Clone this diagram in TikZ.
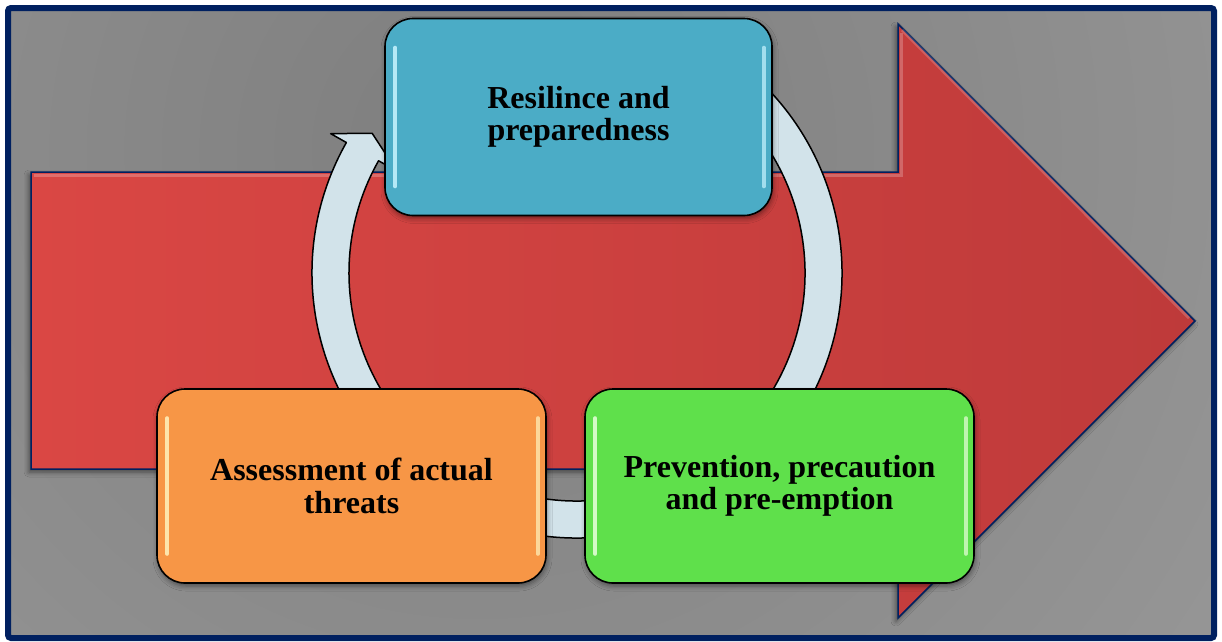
\documentclass[tikz,border=0pt]{standalone}
\usepackage{fontspec}
\setmainfont{Liberation Serif}
\usetikzlibrary{shadows.blur,calc}

\definecolor{framenavy}{HTML}{002060}
\definecolor{bgmid}{HTML}{7E7E7E}
\definecolor{bgedge}{HTML}{A6A6A6}
\definecolor{redL}{HTML}{DA4744}
\definecolor{redR}{HTML}{BE3A3A}
\definecolor{ringblue}{HTML}{D2E3EA}
\definecolor{stageblue}{HTML}{4BACC6}
\definecolor{stagegreen}{HTML}{5FE04B}
\definecolor{stageorange}{HTML}{F79646}
\definecolor{hlblue}{HTML}{C8F4FF}
\definecolor{hlgreen}{HTML}{E8FFDC}
\definecolor{hlorange}{HTML}{FFF4BE}

\tikzset{
  stage/.style={draw=black, line width=1.6, rounded corners=28,
    align=center, inner sep=0pt,
    font=\fontsize{32}{32.5}\selectfont\bfseries,
    blur shadow={shadow xshift=1pt, shadow yshift=-3pt,
                 shadow blur radius=5pt, shadow opacity=45}},
  gloss/.style={line width=4, line cap=round, opacity=0.85},
}

\begin{document}
\begin{tikzpicture}[x=1pt,y=-1pt]
\useasboundingbox (0,0) rectangle (1222,641);

% grey backdrop with a soft radial falloff
\begin{scope}
  \clip (8,8) rectangle (1214,638);
  \shade[inner color=bgmid, outer color=bgedge] (480,150) circle[radius=1500];
\end{scope}
\draw[framenavy, line width=6, rounded corners=3] (8,8) rectangle (1214,638);

% large red block arrow pointing right
\path[blur shadow={shadow xshift=-2pt, shadow yshift=-3pt,
                   shadow blur radius=5pt, shadow opacity=50},
      left color=redL, right color=redR, draw=framenavy, line width=1.5,
      line join=miter]
  (31,172) -- (898,172) -- (898,24) -- (1195,321) -- (898,618)
  -- (898,469) -- (31,469) -- cycle;
% bevel light along the upper edges
\draw[white, opacity=0.22, line width=3]
  (34,175.5) -- (901.5,175.5) -- (901.5,33);
\draw[white, opacity=0.18, line width=3] (902,30) -- (1189,318);

% circular cycle arrow behind the stages
\begin{scope}[shift={(577,273)}, x=1pt, y=1pt]
  \filldraw[fill=ringblue, draw=black, line width=1.5, line join=round]
    (150.5:265) arc[start angle=150.5, end angle=420, radius=265]
    -- (420:228) arc[start angle=420, end angle=150.5, radius=228]
    -- (150.5:207) -- (145.7:248) -- (150.5:283) -- cycle;
\end{scope}

% the three stages
\node[stage, fill=stageblue, minimum width=387, minimum height=197]
  (resil) at (578.5,117) {Resilince and\\preparedness};
\node[stage, fill=stageorange, minimum width=389, minimum height=194]
  (assess) at (351.5,486) {Assessment of actual\\threats};
\node[stage, fill=stagegreen, minimum width=389, minimum height=194]
  (prevent) at (779.5,486) {Prevention, precaution\\and pre-emption};

% glossy side highlights
\foreach \n/\c in {resil/hlblue, assess/hlorange, prevent/hlgreen}{
  \draw[gloss, \c] ($(\n.north west)+(11,30)$) -- ($(\n.south west)+(11,-30)$);
  \draw[gloss, \c, opacity=0.7] ($(\n.north east)+(-9,30)$) -- ($(\n.south east)+(-9,-30)$);
}
\end{tikzpicture}
\end{document}
